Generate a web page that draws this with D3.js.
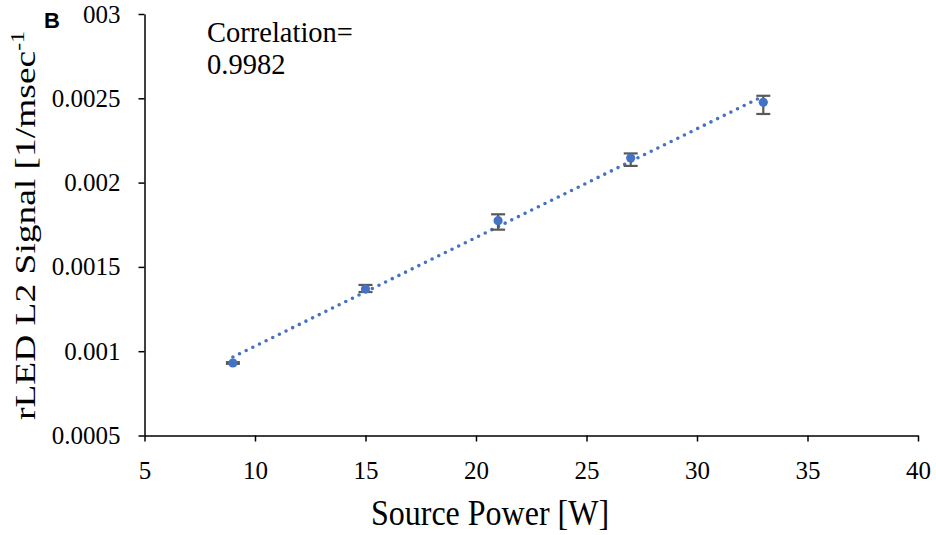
<!DOCTYPE html>
<html>
<head>
<meta charset="utf-8">
<script src="https://cdn.jsdelivr.net/npm/d3@7"></script>
<style>
    body { margin: 0; background: #fff; }
</style>
</head>
<body>
<div id="chart"></div>
<script>
const width = 936;
const height = 535;

// data
const sourcePower = [9, 15, 21, 27, 33];
const signal = [0.000930, 0.001369, 0.001774, 0.002146, 0.002476];
const errPlus = [0.000005, 0.000024, 0.000038, 0.000027, 0.000039];
const errMinus = [0.000005, 0.000018, 0.000053, 0.000047, 0.000069];

const xTicks = [5, 10, 15, 20, 25, 30, 35, 40];
const yTicks = [0.0005, 0.001, 0.0015, 0.002, 0.0025, 0.003];
const yTickLabels = ['0.0005', '0.001', '0.0015', '0.002', '0.0025', '0.003'];

const serifFont = '"Liberation Serif"';

const points = sourcePower.map((x, i) => ({
    x: x,
    y: signal[i],
    hi: signal[i] + errPlus[i],
    lo: signal[i] - errMinus[i]
}));

const svg = d3.select('#chart').append('svg')
    .attr('width', width)
    .attr('height', height);

svg.append('rect')
    .attr('width', width)
    .attr('height', height)
    .attr('fill', '#fff');

const xScale = d3.scaleLinear()
    .domain([5, 40])
    .range([144.5, 918]);

const yScale = d3.scaleLinear()
    .domain([0.0005, 0.003])
    .range([435.5, 14]);

// y axis
const yAxis = svg.append('g')
    .attr('transform', `translate(${xScale(5)},0)`)
    .call(d3.axisLeft(yScale)
        .tickValues(yTicks)
        .tickFormat((d, i) => yTickLabels[i])
        .tickSizeInner(6)
        .tickSizeOuter(0)
        .tickPadding(18));

yAxis.select('.domain').attr('stroke', '#000').attr('stroke-width', 1.5);
yAxis.selectAll('.tick line').attr('stroke', '#000').attr('stroke-width', 1.5);
yAxis.selectAll('.tick text')
    .style('font-family', serifFont)
    .style('font-size', '25px')
    .attr('fill', '#000');

// x axis
const xAxis = svg.append('g')
    .attr('transform', `translate(0,${yScale(0.0005)})`)
    .call(d3.axisBottom(xScale)
        .tickValues(xTicks)
        .tickSizeInner(6)
        .tickSizeOuter(0)
        .tickPadding(20));

xAxis.select('.domain').attr('stroke', '#000').attr('stroke-width', 1.5);
xAxis.selectAll('.tick line').attr('stroke', '#000').attr('stroke-width', 1.5);
xAxis.selectAll('.tick text')
    .style('font-family', serifFont)
    .style('font-size', '25px')
    .attr('fill', '#000');

// linear trendline (least squares fit of the points)
const mx = d3.mean(sourcePower);
const my = d3.mean(signal);
const slope = d3.sum(sourcePower, (x, i) => (x - mx) * (signal[i] - my)) /
    d3.sum(sourcePower, x => (x - mx) * (x - mx));
const intercept = my - slope * mx;
const trendX = d3.extent(sourcePower);

svg.append('path')
    .attr('d', d3.line()
        .x(d => xScale(d))
        .y(d => yScale(intercept + slope * d))(trendX))
    .attr('fill', 'none')
    .attr('stroke', '#4472c4')
    .attr('stroke-width', 3.6)
    .attr('stroke-linecap', 'round')
    .attr('stroke-dasharray', '0,7.4');

// error bars
const bars = svg.selectAll('.err')
    .data(points)
    .join('g')
    .attr('class', 'err')
    .attr('stroke', '#595959')
    .attr('stroke-width', 2.2);

bars.append('line')
    .attr('x1', d => xScale(d.x))
    .attr('x2', d => xScale(d.x))
    .attr('y1', d => yScale(d.hi))
    .attr('y2', d => yScale(d.lo));

bars.selectAll('.cap')
    .data(d => [[d.x, d.hi], [d.x, d.lo]])
    .join('line')
    .attr('class', 'cap')
    .attr('x1', d => xScale(d[0]) - 7)
    .attr('x2', d => xScale(d[0]) + 7)
    .attr('y1', d => yScale(d[1]))
    .attr('y2', d => yScale(d[1]));

// markers
svg.selectAll('.pt')
    .data(points)
    .join('circle')
    .attr('class', 'pt')
    .attr('cx', d => xScale(d.x))
    .attr('cy', d => yScale(d.y))
    .attr('r', 4.6)
    .attr('fill', '#4472c4');

// axis titles
svg.append('text')
    .attr('transform', 'translate(490,525) scale(1,1.1)')
    .attr('text-anchor', 'middle')
    .style('font-family', serifFont)
    .style('font-size', '32px')
    .text('Source Power [W]');

const yTitle = svg.append('text')
    .style('font-family', serifFont)
    .style('font-size', '30px')
    .text('rLED L2 Signal [1/msec');

yTitle.append('tspan')
    .style('font-size', '19px')
    .attr('dy', -11)
    .text('-1');

yTitle.append('tspan')
    .attr('dy', 11)
    .text(']');

// the title is stretched along its length so that it runs from y=420 up to the panel letter
const titleNode = yTitle.node();
const titleLen = titleNode.getSubStringLength(0, titleNode.getNumberOfChars() - 1);
const stretch = (420 - 31) / titleLen;
yTitle.attr('transform', `translate(35,420) rotate(-90) scale(${stretch},1)`);

// correlation note
const note = svg.append('text')
    .attr('x', 207)
    .attr('y', 42)
    .style('font-family', serifFont)
    .style('font-size', '28.5px');

note.append('tspan').text('Correlation=');
note.append('tspan').attr('x', 207).attr('dy', 32).text('0.9982');

// panel letter, its white box hides the "0." of the top tick label
const topLabel = yAxis.selectAll('.tick text').nodes()[yTicks.length - 1];
const topBox = topLabel.getBBox();
const coverRight = xScale(5) + topBox.x + topLabel.getSubStringLength(0, 2);

svg.append('rect')
    .attr('x', 0)
    .attr('y', 0)
    .attr('width', coverRight)
    .attr('height', 30)
    .attr('fill', '#fff');

svg.append('text')
    .attr('x', 44)
    .attr('y', 28)
    .style('font-family', '"Liberation Sans"')
    .style('font-weight', 'bold')
    .style('font-size', '22px')
    .text('B');
</script>
</body>
</html>
